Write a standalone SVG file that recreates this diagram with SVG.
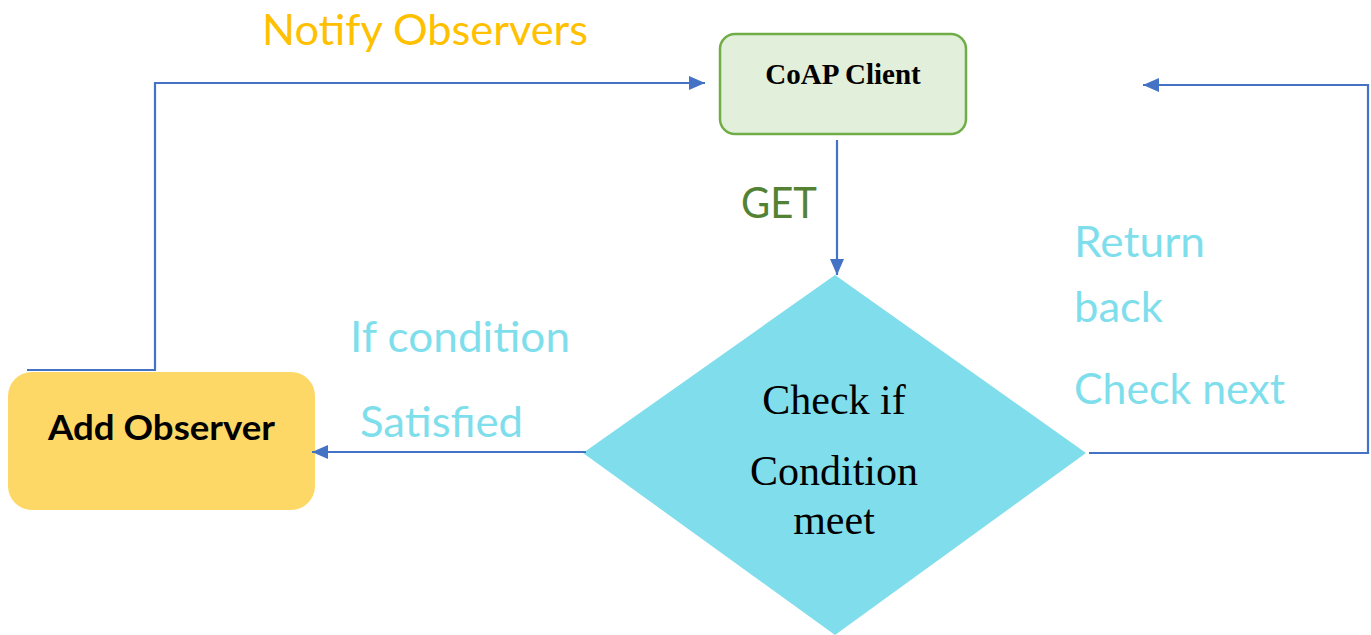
<svg xmlns="http://www.w3.org/2000/svg" width="1371" height="635" viewBox="0 0 1371 635">
  <style>
    .label { font-family: Lato, "Open Sans", sans-serif; font-size: 42px; }
    .cyan { fill: #7FDEEC; }
    .conn { fill: none; stroke: #4472C4; stroke-width: 2.2; }
    .serif { font-family: "Liberation Serif", "Times New Roman", serif; fill: #000; }
  </style>
  <defs>
    <marker id="arrow" viewBox="0 0 16 14" refX="16" refY="7" markerWidth="16" markerHeight="14" markerUnits="userSpaceOnUse" orient="auto">
      <path d="M0,0 L16,7 L0,14 Z" fill="#4472C4"/>
    </marker>
  </defs>

  <rect width="1371" height="635" fill="#fff"/>

  <!-- CoAP Client -->
  <g id="coap-client">
    <rect x="720" y="34" width="246" height="100" rx="15" fill="#E2EFDA" stroke="#70AD47" stroke-width="2.5"/>
    <text class="serif" x="843" y="84" font-size="29" font-weight="bold" text-anchor="middle">CoAP Client</text>
  </g>

  <!-- Add Observer -->
  <g id="add-observer">
    <rect x="8" y="372" width="307" height="138" rx="24" fill="#FDD867"/>
    <text x="161.5" y="440" font-family="Lato, 'Open Sans', sans-serif" font-size="35" font-weight="bold" text-anchor="middle" textLength="227" lengthAdjust="spacingAndGlyphs" fill="#000">Add Observer</text>
  </g>

  <!-- decision -->
  <g id="check-condition">
    <polygon points="835,275 1086,453 835,635 583,453" fill="#80DEEC"/>
    <text class="serif" x="834" y="414" font-size="42" text-anchor="middle">Check if</text>
    <text class="serif" x="834" y="485" font-size="42" text-anchor="middle">Condition</text>
    <text class="serif" x="834" y="534" font-size="42" text-anchor="middle">meet</text>
  </g>

  <!-- connectors -->
  <g id="connectors">
    <path class="conn" d="M837,140 L837,275" marker-end="url(#arrow)"/>
    <path class="conn" d="M586,452 L312,452" marker-end="url(#arrow)"/>
    <path class="conn" d="M27,370 L155,370 L155,83 L705,83" marker-end="url(#arrow)"/>
    <path class="conn" d="M1089,453 L1368,453 L1368,85 L1143,85" marker-end="url(#arrow)"/>
  </g>

  <!-- connector labels -->
  <g id="labels">
    <text class="label" x="262" y="45" fill="#FFC000" textLength="326" lengthAdjust="spacingAndGlyphs">Notify Observers</text>
    <text class="label" x="741" y="218" fill="#548235" textLength="76" lengthAdjust="spacingAndGlyphs">GET</text>
    <text class="label cyan" x="350" y="352" textLength="220" lengthAdjust="spacingAndGlyphs">If condition</text>
    <text class="label cyan" x="360" y="437" textLength="163" lengthAdjust="spacingAndGlyphs">Satisfied</text>
    <text class="label cyan" x="1074" y="257" textLength="131" lengthAdjust="spacingAndGlyphs">Return</text>
    <text class="label cyan" x="1074" y="322" textLength="89" lengthAdjust="spacingAndGlyphs">back</text>
    <text class="label cyan" x="1074" y="404" textLength="211" lengthAdjust="spacingAndGlyphs">Check next</text>
  </g>
</svg>
